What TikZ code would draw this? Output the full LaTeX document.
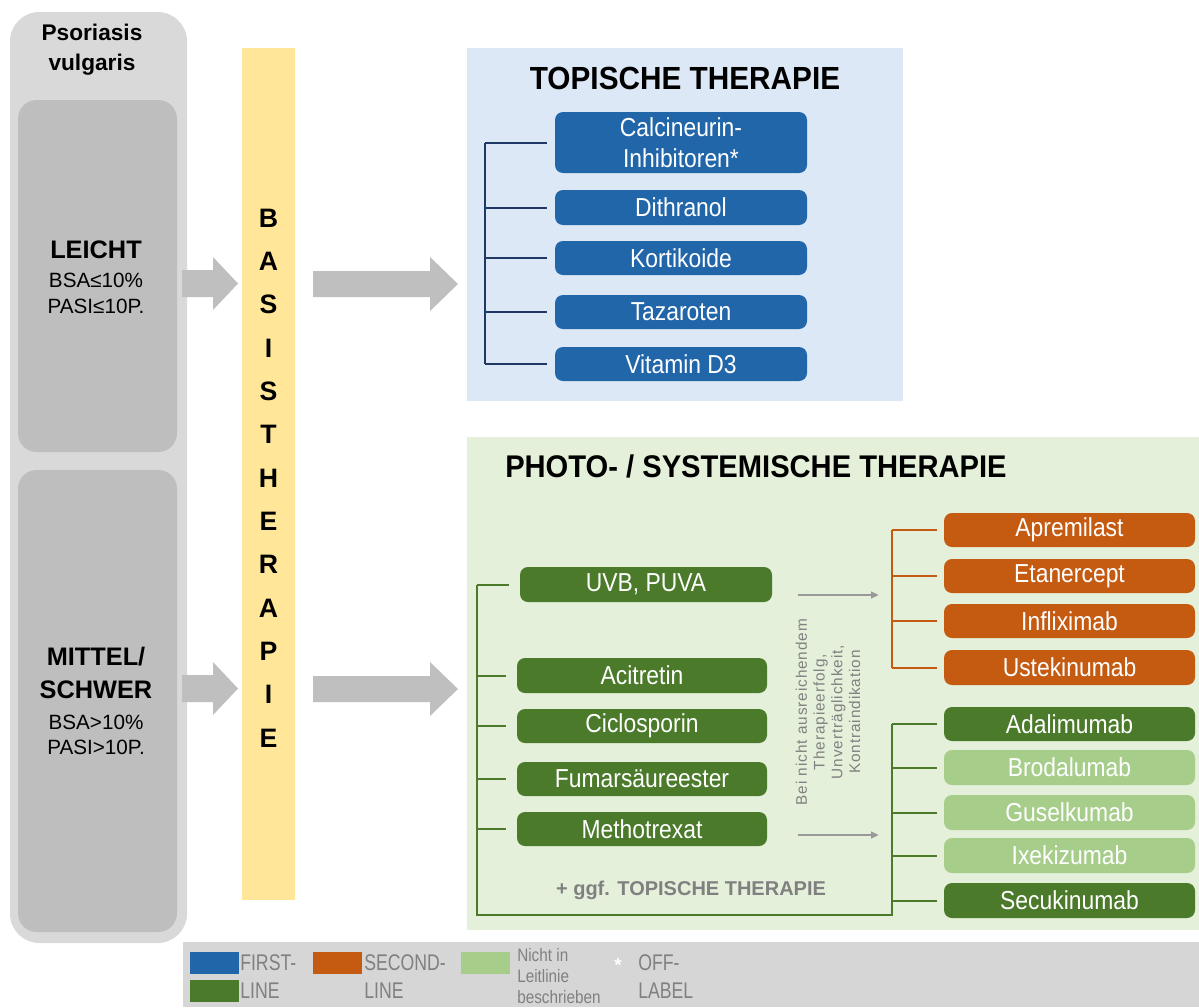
\documentclass[tikz,border=0pt]{standalone}
\usepackage{fontspec}
\setmainfont{Liberation Sans}
\newfontfamily\boxfont[FakeStretch=0.88]{Liberation Sans}
\newfontfamily\legfont[FakeStretch=0.78]{Liberation Sans}
\newfontfamily\legsfont[FakeStretch=0.85]{Liberation Sans}
\newfontfamily\spfont[LetterSpace=6]{Liberation Sans}
\newfontfamily\titfont[FakeStretch=0.93]{Liberation Sans}
\usetikzlibrary{arrows.meta}
\definecolor{cblue}{RGB}{34,102,170}
\definecolor{cbline}{RGB}{31,56,100}
\definecolor{cdg}{RGB}{74,122,42}
\definecolor{corg}{RGB}{197,90,17}
\definecolor{clg}{RGB}{166,206,138}
\definecolor{cbluebg}{RGB}{220,232,245}
\definecolor{cgreenbg}{RGB}{228,240,218}
\definecolor{cgray1}{RGB}{217,217,217}
\definecolor{cgray2}{RGB}{190,190,190}
\definecolor{carrow}{RGB}{191,191,191}
\definecolor{cyellow}{RGB}{255,230,153}
\definecolor{clegbg}{RGB}{214,214,214}
\definecolor{ctxt}{RGB}{128,128,128}
\definecolor{cthin}{RGB}{153,153,153}
\newcommand\bx[7]{\node[#6,minimum width={(#4-#2)*0.75pt},minimum height={(#5-#3)*0.75pt}] (#1) at ({(#2+#4)/2},{(#3+#5)/2}) {#7};}
\begin{document}
\begin{tikzpicture}[x=0.75pt,y=-0.75pt,
  med/.style={inner sep=0pt,rounded corners=6pt,text=white,align=center,font=\boxfont\fontsize{19.5}{23}\selectfont},
  fb/.style={med,fill=cblue},
  fg/.style={med,fill=cdg},
  fo/.style={med,fill=corg},
  fl/.style={med,fill=clg},
  sev/.style={inner sep=0pt,rounded corners=14pt,fill=cgray2},
  blk/.style={fill=carrow},
  bl/.style={draw=cbline,line width=1.5pt,shorten >=6pt},
  gl/.style={draw=cdg,line width=1.5pt},
  ol/.style={draw=corg,line width=1.5pt},
  thin/.style={draw=cthin,line width=1.6pt,-{Triangle[length=6pt,width=5pt]}},
  leg/.style={inner sep=0pt,anchor=west,text=ctxt,font=\legfont\fontsize{17}{19}\selectfont,align=left},
  sq/.style={inner sep=0pt,minimum width={49*0.75pt},minimum height={22*0.75pt}}
]
\useasboundingbox (0,0) rectangle (1199,1007);
\fill[white] (0,0) rectangle (1199,1007);

% left column
\fill[cgray1,rounded corners=22pt] (10,12) rectangle (187,943);
\node[font=\bfseries\fontsize{17}{22.5}\selectfont,align=center] (pso) at (92,50) {Psoriasis\\vulgaris};
\bx{leicht}{18}{100}{177}{452}{sev}{}
\bx{mittel}{18}{470}{177}{932}{sev}{}
\node[font=\bfseries\fontsize{19}{22}\selectfont] (lt1) at (96,250) {LEICHT};
\node[font=\fontsize{15.5}{18}\selectfont] (lt2) at (96,280) {BSA≤10\%};
\node[font=\fontsize{15.5}{18}\selectfont] (lt3) at (96,306) {PASI≤10P.};
\node[font=\bfseries\fontsize{19}{22}\selectfont] (mt1) at (96,657) {MITTEL/};
\node[font=\bfseries\fontsize{19}{22}\selectfont] (mt2) at (96,690) {SCHWER};
\node[font=\fontsize{15.5}{18}\selectfont] (mt3) at (96,722) {BSA>10\%};
\node[font=\fontsize{15.5}{18}\selectfont] (mt4) at (96,747) {PASI>10P.};

% basistherapie bar
\fill[cyellow] (242,48) rectangle (295,900);
\node[align=center,font=\bfseries\fontsize{20}{32.5}\selectfont,inner sep=0pt] (basis) at (268.5,478) {B\\A\\S\\I\\S\\T\\H\\E\\R\\A\\P\\I\\E};

% block arrows
\foreach \dy in {0,405}{
  \fill[blk] (182,270+\dy) -- (213,270+\dy) -- (213,257+\dy) -- (238,283.5+\dy) -- (213,310+\dy) -- (213,297+\dy) -- (182,297+\dy) -- cycle;
  \fill[blk] (313,271+\dy) -- (430,271+\dy) -- (430,257+\dy) -- (458,284+\dy) -- (430,311+\dy) -- (430,297+\dy) -- (313,297+\dy) -- cycle;
}

% topical
\fill[cbluebg] (467,48) rectangle (903,401);
\node[font=\titfont\bfseries\fontsize{24}{26}\selectfont] (ttitle) at (685,78) {TOPISCHE THERAPIE};
\bx{calc}{555}{112}{807}{173}{fb}{Calcineurin-\\Inhibitoren*}
\bx{dith}{555}{190}{807}{225}{fb}{Dithranol}
\bx{kort}{555}{241}{807}{275}{fb}{Kortikoide}
\bx{taz}{555}{295}{807}{329}{fb}{Tazaroten}
\bx{vit}{555}{347}{807}{381}{fb}{Vitamin D3}
\coordinate (tsp) at (485,0);
\draw[draw=cbline,line width=1.5pt] (calc.west -| tsp) -- (vit.west -| tsp);
\foreach \n in {calc,dith,kort,taz,vit}{\draw[bl] (\n.west -| tsp) -- (\n.west);}

% systemic
\fill[cgreenbg] (467,437) rectangle (1199,930);
\node[font=\titfont\bfseries\fontsize{23.5}{26}\selectfont,anchor=west,inner sep=0pt] (stitle) at (505,466) {PHOTO- / SYSTEMISCHE THERAPIE};
\bx{uvb}{520}{567}{772}{602}{fg}{UVB, PUVA}
\bx{aci}{517}{658}{767}{693}{fg}{Acitretin}
\bx{cic}{517}{709}{767}{743}{fg}{Ciclosporin}
\bx{fum}{517}{762}{767}{796}{fg}{Fumarsäureester}
\bx{mtx}{517}{812}{767}{846}{fg}{Methotrexat}
\node[font=\bfseries\fontsize{15}{18}\selectfont,text=ctxt] (ggf) at (691,890) {+ ggf. TOPISCHE THERAPIE};

\bx{apr}{944}{513}{1195}{547}{fo}{Apremilast}
\bx{eta}{944}{559}{1195}{593}{fo}{Etanercept}
\bx{inf}{944}{604}{1195}{638}{fo}{Infliximab}
\bx{ust}{944}{650}{1195}{685}{fo}{Ustekinumab}
\bx{ada}{944}{707}{1195}{741}{fg}{Adalimumab}
\bx{bro}{944}{750}{1195}{785}{fl}{Brodalumab}
\bx{gus}{944}{795}{1195}{830}{fl}{Guselkumab}
\bx{ixe}{944}{838}{1195}{873}{fl}{Ixekizumab}
\bx{sec}{944}{883}{1195}{918}{fg}{Secukinumab}

% left green bracket
\coordinate (gsp) at (477,0);
\coordinate (gbot) at (477,915);
\coordinate (rsp) at (892,0);
\draw[gl] (uvb.west -| gsp) -- (gbot) -| (ada.west -| rsp);
\foreach \n in {uvb,aci,cic,fum,mtx}{\draw[gl,shorten >=8pt] (\n.west -| gsp) -- (\n.west);}
\foreach \n in {ada,bro,gus,ixe,sec}{\draw[gl,shorten >=5pt] (\n.west -| rsp) -- (\n.west);}
% orange bracket
\draw[ol] (apr.west -| rsp) -- (ust.west -| rsp);
\foreach \n in {apr,eta,inf,ust}{\draw[ol,shorten >=5pt] (\n.west -| rsp) -- (\n.west);}

% thin arrows
\coordinate (a1s) at (798,595);
\coordinate (a1e) at (879,595);
\coordinate (a2s) at (798,835);
\coordinate (a2e) at (879,835);
\draw[thin] (a1s) -- (a1e);
\draw[thin] (a2s) -- (a2e);
\node[rotate=90,align=center,text=ctxt,font=\spfont\fontsize{11.5}{13.3}\selectfont] (cond) at (828,712) {Bei nicht ausreichendem\\Therapieerfolg,\\Unverträglichkeit,\\Kontraindikation};

% legend
\fill[clegbg] (183,942) rectangle (1199,1007);
\node[sq,fill=cblue] (lq1) at (214.5,963) {};
\node[sq,fill=cdg] (lq2) at (214.5,991) {};
\node[leg] (lt1b) at (240,963) {FIRST-};
\node[leg] (lt2b) at (240,991) {LINE};
\node[sq,fill=corg] (lq3) at (337.5,963) {};
\node[leg] (lt3b) at (364,963) {SECOND-};
\node[leg] (lt4b) at (364,991) {LINE};
\node[sq,fill=clg] (lq4) at (485,963) {};
\node[leg,font=\legsfont\fontsize{13.5}{15.5}\selectfont] (lt5b) at (517,976) {Nicht in\\Leitlinie\\beschrieben};
\node[text=white,font=\bfseries\fontsize{14}{15}\selectfont,inner sep=0pt] (star) at (618,965) {*};
\node[leg] (lt6b) at (638,963) {OFF-};
\node[leg] (lt7b) at (638,991) {LABEL};
\end{tikzpicture}
\end{document}
